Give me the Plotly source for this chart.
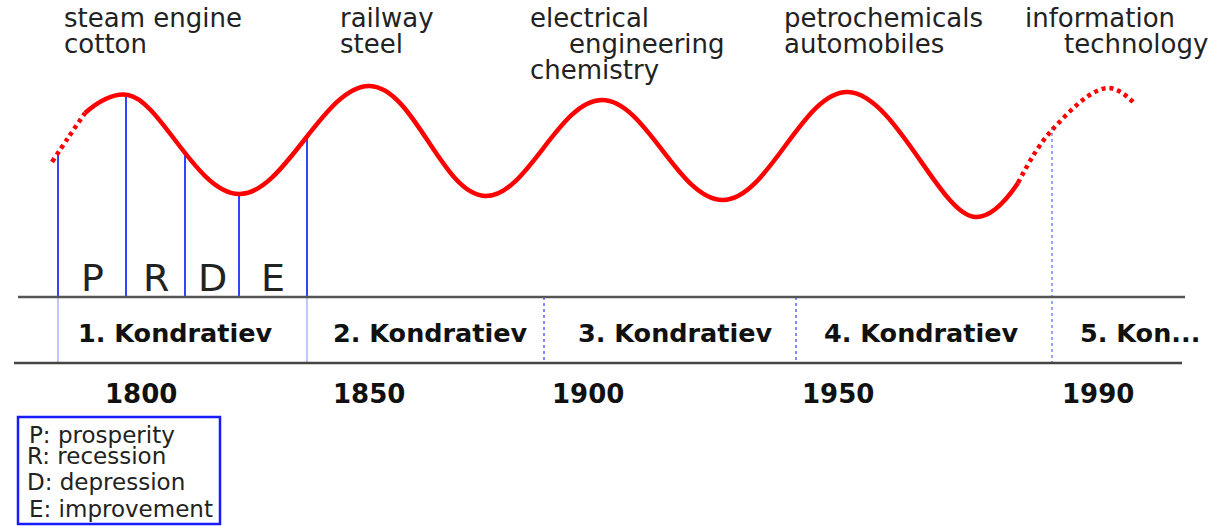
import plotly.graph_objects as go

# ---- data (diagram coordinates: x across the timeline, y = wave level, screen-like units) ----
wave_x = [85, 128, 239, 370, 485, 602, 723, 848, 975, 1018]
wave_y = [113, 95, 194, 86, 196, 100, 200, 92, 217, 183]
past_x = [52, 68, 85]
past_y = [162, 138, 113]
future_x = [1018, 1052, 1107, 1133]
future_y = [183, 130, 88, 102]

phase_x = [58, 126, 185, 239, 307]
phase_top = [155, 95, 153, 194, 137]
phase_letters = ["P", "R", "D", "E"]

cycle_labels = ["1. Kondratiev", "2. Kondratiev", "3. Kondratiev", "4. Kondratiev", "5. Kon..."]
cycle_label_x = [175, 430, 675, 921, 1078]
cycle_bounds = [58, 307, 544, 796, 1052]
years = ["1800", "1850", "1900", "1950", "1990"]
year_pos = [141, 369, 588, 838, 1098]

innovations = [["steam engine", "cotton"], ["railway", "steel"],
               ["electrical", "engineering", "chemistry"],
               ["petrochemicals", "automobiles"], ["information", "technology"]]
innov_left = [[62, 62], [338, 338], [528, 567, 528], [782, 782], [1023, 1062]]

legend_lines = ["P: prosperity", "R: recession", "D: depression", "E: improvement"]

# ---- figure ----
FONT = "DejaVu Sans"
TXT = "#222222"
fig = go.Figure()

BASE = 297
LOW = 363

# phase lines (blue, from curve to baseline)
for x, t in zip(phase_x, phase_top):
    fig.add_trace(go.Scatter(x=[x, x], y=[t, BASE], mode="lines",
                             line=dict(color="#3344ff", width=2), hoverinfo="skip"))

# cycle boundaries in the band
for i, x in enumerate(cycle_bounds):
    if i < 2:
        fig.add_trace(go.Scatter(x=[x, x], y=[BASE, LOW], mode="lines",
                                 line=dict(color="#aab4ff", width=1.5), hoverinfo="skip"))
    elif i < 4:
        fig.add_trace(go.Scatter(x=[x, x], y=[BASE, LOW], mode="lines",
                                 line=dict(color="#5566ff", width=1.5, dash="dot"), hoverinfo="skip"))
    else:
        fig.add_trace(go.Scatter(x=[x, x], y=[future_y[1] - 3, LOW], mode="lines",
                                 line=dict(color="#99a4ff", width=2, dash="dot"), hoverinfo="skip"))

# horizontal band lines
fig.add_trace(go.Scatter(x=[18, 1185], y=[BASE, BASE], mode="lines",
                         line=dict(color="#555555", width=2.5), hoverinfo="skip"))
fig.add_trace(go.Scatter(x=[14, 1182], y=[LOW, LOW], mode="lines",
                         line=dict(color="#444444", width=2.5), hoverinfo="skip"))

# wave
fig.add_trace(go.Scatter(x=wave_x, y=wave_y, mode="lines",
                         line=dict(color="#ff0000", width=4.5, shape="spline", smoothing=1.1),
                         hoverinfo="skip"))
fig.add_trace(go.Scatter(x=past_x, y=past_y, mode="lines",
                         line=dict(color="#ff0000", width=4.5, dash="4px,4px", shape="spline"),
                         hoverinfo="skip"))
fig.add_trace(go.Scatter(x=future_x, y=future_y, mode="lines",
                         line=dict(color="#ff0000", width=4.5, dash="4px,4px", shape="spline",
                                   smoothing=1.1),
                         hoverinfo="skip"))

ann = []
# phase letters
for i, L in enumerate(phase_letters):
    cx = (phase_x[i] + phase_x[i + 1]) / 2
    ann.append(dict(x=cx, y=278, text=L, showarrow=False, xanchor="center", yanchor="middle",
                    font=dict(family=FONT, size=38, color=TXT)))

# cycle labels
for i, lab in enumerate(cycle_labels):
    ann.append(dict(x=cycle_label_x[i], y=333, text=lab, showarrow=False,
                    xanchor="center" if i < 4 else "left", yanchor="middle",
                    font=dict(family=FONT, size=25.5, color="#111111", weight="bold")))

# years
for y_lab, xp in zip(years, year_pos):
    ann.append(dict(x=xp, y=394, text=y_lab, showarrow=False, xanchor="center", yanchor="middle",
                    font=dict(family=FONT, size=26, color="#111111", weight="bold")))

# innovations
base_lines = [27, 53, 79]
for lines, lefts in zip(innovations, innov_left):
    for j, (t, lx) in enumerate(zip(lines, lefts)):
        ann.append(dict(x=lx, y=base_lines[j] - 9, text=t, showarrow=False, xanchor="left",
                        yanchor="middle", font=dict(family=FONT, size=26, color=TXT)))

# legend box text
leg_base = [443, 464, 490, 517]
leg_left = [27, 25, 25, 27]
for t, b, lx in zip(legend_lines, leg_base, leg_left):
    ann.append(dict(x=lx, y=b - 8, text=t, showarrow=False, xanchor="left", yanchor="middle",
                    font=dict(family=FONT, size=23, color=TXT)))

fig.update_layout(
    width=1208, height=526,
    margin=dict(l=0, r=0, t=0, b=0),
    paper_bgcolor="white", plot_bgcolor="white",
    showlegend=False,
    xaxis=dict(range=[0, 1208], visible=False, fixedrange=True),
    yaxis=dict(range=[526, 0], visible=False, fixedrange=True),
    annotations=ann,
    shapes=[dict(type="rect", xref="x", yref="y", x0=18, x1=220, y0=417, y1=524,
                 line=dict(color="#1a1aff", width=2.5), fillcolor="rgba(0,0,0,0)")],
)

fig.write_html("out.html", config={"displayModeBar": False},
               post_script="document.body.style.margin='0px';document.body.style.overflow='hidden';")
